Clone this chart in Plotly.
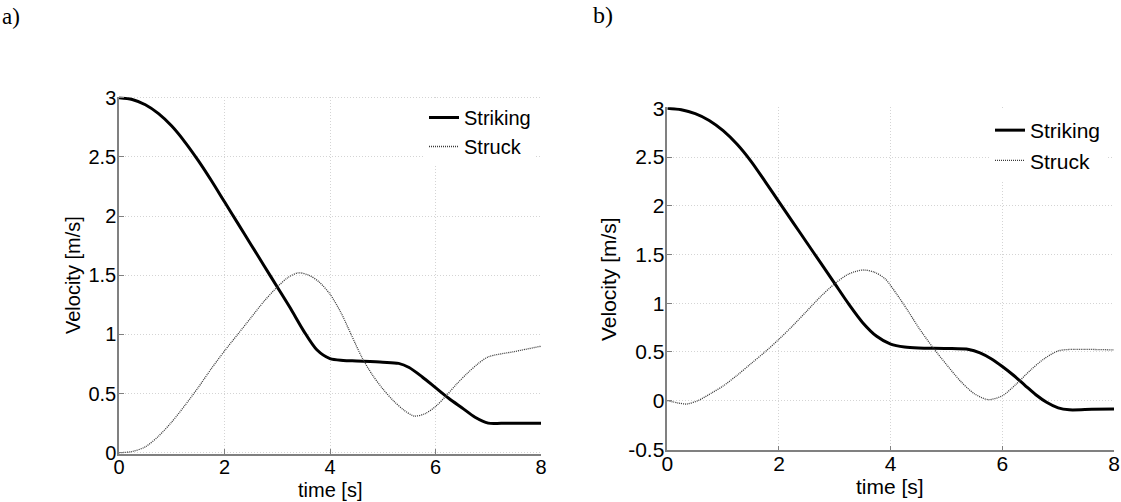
import plotly.graph_objects as go

# ---- panel a) ----
t_strike_a = [0, 0.25, 0.5, 0.75, 1.0, 1.25, 1.5, 1.75, 2.0, 2.25, 2.5, 2.75, 3.0, 3.25, 3.5, 3.75,
              4.0, 4.25, 4.5, 5.0, 5.3, 5.5, 5.75, 6.0, 6.25, 6.5, 6.75, 7.0, 7.25, 8.0]
v_strike_a = [3.0, 2.985, 2.94, 2.865, 2.76, 2.625, 2.47, 2.3, 2.12, 1.94, 1.76, 1.58, 1.4, 1.22, 1.03, 0.87,
              0.795, 0.78, 0.775, 0.765, 0.755, 0.72, 0.64, 0.55, 0.46, 0.38, 0.3, 0.25, 0.248, 0.248]

t_struck_a = [0, 0.25, 0.5, 0.75, 1.0, 1.25, 1.5, 1.75, 2.0, 2.25, 2.5, 2.75, 3.0, 3.2, 3.4, 3.6, 3.8,
              4.0, 4.2, 4.4, 4.6, 4.8, 5.0, 5.2, 5.4, 5.6, 5.8, 6.0, 6.2, 6.4, 6.6, 6.8, 7.0, 7.5, 8.0]
v_struck_a = [0.0, 0.01, 0.05, 0.14, 0.26, 0.4, 0.55, 0.71, 0.86, 1.0, 1.14, 1.28, 1.4, 1.48, 1.52, 1.5, 1.44,
              1.34, 1.19, 1.0, 0.81, 0.66, 0.54, 0.44, 0.36, 0.31, 0.33, 0.39, 0.48, 0.58, 0.67, 0.75, 0.81, 0.855, 0.9]

# ---- panel b) ----
t_strike_b = [0, 0.25, 0.5, 0.75, 1.0, 1.25, 1.5, 1.75, 2.0, 2.25, 2.5, 2.75, 3.0, 3.25, 3.5, 3.75,
              4.0, 4.25, 4.5, 5.0, 5.4, 5.6, 5.8, 6.0, 6.2, 6.4, 6.6, 6.8, 7.0, 7.2, 7.6, 8.0]
v_strike_b = [3.0, 2.985, 2.945, 2.875, 2.77, 2.63, 2.455, 2.25, 2.04, 1.83, 1.62, 1.41, 1.2, 0.99, 0.8, 0.66,
              0.58, 0.55, 0.54, 0.535, 0.525, 0.49, 0.43, 0.35, 0.26, 0.16, 0.06, -0.02, -0.075, -0.095, -0.09, -0.085]

t_struck_b = [0, 0.2, 0.35, 0.55, 0.8, 1.0, 1.25, 1.5, 1.75, 2.0, 2.25, 2.5, 2.75, 3.0, 3.25, 3.5, 3.7,
              3.9, 4.1, 4.3, 4.5, 4.75, 5.0, 5.25, 5.5, 5.75, 6.0, 6.25, 6.5, 6.75, 7.0, 7.2, 8.0]
v_struck_b = [0.0, -0.025, -0.035, 0.0, 0.08, 0.15, 0.26, 0.38, 0.5, 0.63, 0.77, 0.92, 1.07, 1.2, 1.3, 1.34, 1.32,
              1.25, 1.1, 0.93, 0.75, 0.55, 0.37, 0.2, 0.07, 0.01, 0.05, 0.17, 0.31, 0.43, 0.51, 0.525, 0.52]

x_ticks = [0, 2, 4, 6, 8]
y_ticks_a = [0, 0.5, 1, 1.5, 2, 2.5, 3]
y_ticks_b = [-0.5, 0, 0.5, 1, 1.5, 2, 2.5, 3]

FONT = "Arial, Liberation Sans, sans-serif"
SERIF = "Times New Roman, Liberation Serif, serif"
SIZE_A, SIZE_B = 20, 21

strike_style = dict(color="black", width=3)
struck_style = dict(color="#3a3a3a", width=1.3, dash="1px,1px")

fig = go.Figure()

fig.add_trace(go.Scatter(x=t_strike_a, y=v_strike_a, mode="lines", name="Striking",
                         line=dict(shape="spline", smoothing=0.8, **strike_style),
                         xaxis="x", yaxis="y", legend="legend"))
fig.add_trace(go.Scatter(x=t_struck_a, y=v_struck_a, mode="lines", name="Struck",
                         line=dict(shape="spline", smoothing=0.8, **struck_style),
                         xaxis="x", yaxis="y", legend="legend"))
fig.add_trace(go.Scatter(x=t_strike_b, y=v_strike_b, mode="lines", name="Striking",
                         line=dict(shape="spline", smoothing=0.8, **strike_style),
                         xaxis="x2", yaxis="y2", legend="legend2"))
fig.add_trace(go.Scatter(x=t_struck_b, y=v_struck_b, mode="lines", name="Struck",
                         line=dict(shape="spline", smoothing=0.8, **struck_style),
                         xaxis="x2", yaxis="y2", legend="legend2"))


def axis(domain, rng, ticks, size, anchor, standoff):
    return dict(
        domain=domain, range=rng, tickvals=ticks,
        ticktext=[f"{v:g}" for v in ticks],
        showline=True, linecolor="#808080", linewidth=1.5,
        ticks="inside", ticklen=5, tickcolor="#808080",
        ticklabelstandoff=standoff,
        showgrid=True, gridcolor="#d4d4d4", griddash="1px,2px", gridwidth=1,
        zeroline=False, anchor=anchor, automargin=False,
        tickfont=dict(family=FONT, size=size, color="black"),
        fixedrange=True,
    )


W, H = 1121, 502


def px_x(p):
    return p / W


def px_y(p):
    return (H - p) / H


fig.update_layout(
    width=W, height=H,
    margin=dict(l=0, r=0, t=0, b=0, autoexpand=False),
    paper_bgcolor="white", plot_bgcolor="white",
    xaxis=axis([px_x(119), px_x(541)], [0, 8], x_ticks, SIZE_A, "y", -6),
    yaxis=axis([px_y(453.9), px_y(96.5)], [-0.01, 3.01], y_ticks_a, SIZE_A, "x", -3),
    xaxis2=axis([px_x(667.3), px_x(1114)], [0, 8], x_ticks, SIZE_B, "y2", -6),
    yaxis2=axis([px_y(450.3), px_y(107.3)], [-0.51, 3.01], y_ticks_b, SIZE_B, "x2", -3),
    legend=dict(x=px_x(424), y=px_y(98), xanchor="left", yanchor="top",
                bgcolor="white", borderwidth=0,
                font=dict(family=FONT, size=SIZE_A, color="black"),
                tracegroupgap=0),
    legend2=dict(x=px_x(990), y=px_y(110), xanchor="left", yanchor="top",
                 bgcolor="white", borderwidth=0,
                 font=dict(family=FONT, size=SIZE_B, color="black"),
                 tracegroupgap=0),
    showlegend=True,
)

annotations = [
    dict(text="a)", x=px_x(1), y=px_y(3), xanchor="left", yanchor="top",
         font=dict(family=SERIF, size=23, color="black")),
    dict(text="b)", x=px_x(592), y=px_y(1), xanchor="left", yanchor="top",
         font=dict(family=SERIF, size=24, color="black")),
    dict(text="time [s]", x=px_x(330), y=px_y(502), xanchor="center", yanchor="bottom",
         font=dict(family=FONT, size=SIZE_A, color="black")),
    dict(text="time [s]", x=px_x(890), y=px_y(499), xanchor="center", yanchor="bottom",
         font=dict(family=FONT, size=SIZE_B, color="black")),
    dict(text="Velocity [m/s]", x=px_x(73), y=px_y(275), textangle=-90,
         xanchor="center", yanchor="middle",
         font=dict(family=FONT, size=SIZE_A, color="black")),
    dict(text="Velocity [m/s]", x=px_x(608), y=px_y(279), textangle=-90,
         xanchor="center", yanchor="middle",
         font=dict(family=FONT, size=SIZE_B, color="black")),
]
for a in annotations:
    a.update(xref="paper", yref="paper", showarrow=False, borderpad=0)
fig.update_layout(annotations=annotations)

fig.write_html("out.html")
